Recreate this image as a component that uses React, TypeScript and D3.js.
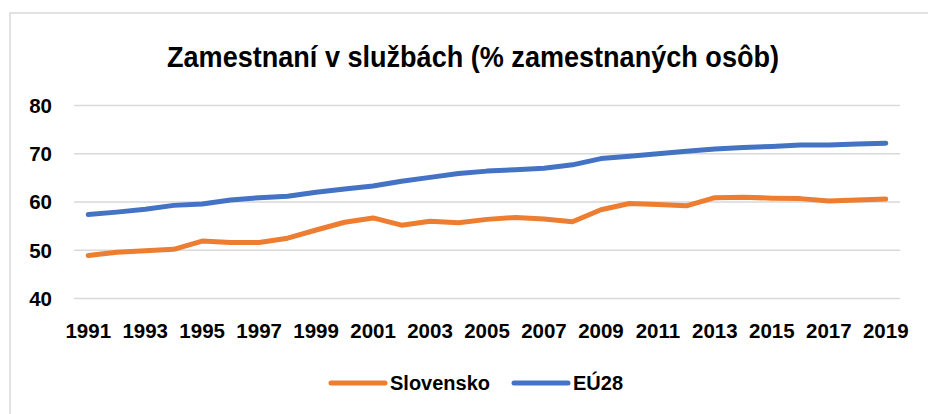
import React, { useRef, useEffect } from "react";
import * as d3 from "d3";

const years = d3.range(1991, 2020);
const slovensko = [
  48.9, 49.6, 49.9, 50.2, 51.9, 51.6, 51.6, 52.5, 54.2, 55.8,
  56.7, 55.2, 56.0, 55.7, 56.4, 56.8, 56.5, 55.9, 58.4, 59.7,
  59.5, 59.2, 60.9, 61.0, 60.8, 60.7, 60.2, 60.4, 60.6,
];
const eu28 = [
  57.4, 57.9, 58.5, 59.3, 59.6, 60.4, 60.9, 61.2, 62.0, 62.7,
  63.3, 64.3, 65.1, 65.9, 66.4, 66.7, 67.0, 67.7, 69.0, 69.5,
  70.0, 70.5, 71.0, 71.3, 71.5, 71.8, 71.8, 72.0, 72.2,
];
const yTicks = [40, 50, 60, 70, 80];
const title = "Zamestnaní v službách (% zamestnaných osôb)";
const seriesNames = ["Slovensko", "EÚ28"];
const colors = ["#ED7D31", "#4472C4"];

const W = 928;
const H = 414;
const FONT = "'Liberation Sans', Arial, sans-serif";

export default function App() {
  const ref = useRef<SVGSVGElement | null>(null);

  useEffect(() => {
    if (!ref.current) return;
    const svg = d3.select(ref.current);
    svg.selectAll("*").remove();

    // chart frame
    svg
      .append("rect")
      .attr("x", 10)
      .attr("y", 13)
      .attr("width", 940)
      .attr("height", 430)
      .attr("fill", "#fff")
      .attr("stroke", "#d9d9d9")
      .attr("stroke-width", 1.5);

    svg
      .append("text")
      .attr("x", 167)
      .attr("y", 67)
      .attr("textLength", 612)
      .attr("lengthAdjust", "spacingAndGlyphs")
      .attr("font-family", FONT)
      .attr("font-weight", "bold")
      .attr("font-size", 29)
      .attr("fill", "#000")
      .text(title);

    const x = d3
      .scalePoint<number>()
      .domain(years)
      .range([74, 900])
      .padding(0.5);
    const y = d3.scaleLinear().domain([40, 80]).range([298.5, 105.5]);

    // gridlines
    svg
      .append("g")
      .selectAll("line")
      .data(yTicks)
      .enter()
      .append("line")
      .attr("x1", 74)
      .attr("x2", 900)
      .attr("y1", (d) => y(d))
      .attr("y2", (d) => y(d))
      .attr("stroke", "#d9d9d9")
      .attr("stroke-width", 1.3);

    // y labels
    svg
      .append("g")
      .selectAll("text")
      .data(yTicks)
      .enter()
      .append("text")
      .attr("x", 52)
      .attr("y", (d) => y(d) + 7.3)
      .attr("text-anchor", "end")
      .attr("font-family", FONT)
      .attr("font-weight", "bold")
      .attr("font-size", 20.5)
      .attr("fill", "#000")
      .text((d) => d);

    // x labels (every other year)
    svg
      .append("g")
      .selectAll("text")
      .data(years.filter((d) => (d - 1991) % 2 === 0))
      .enter()
      .append("text")
      .attr("x", (d) => x(d)!)
      .attr("y", 337.5)
      .attr("text-anchor", "middle")
      .attr("font-family", FONT)
      .attr("font-weight", "bold")
      .attr("font-size", 20.5)
      .attr("fill", "#000")
      .text((d) => d);

    const line = d3
      .line<number>()
      .x((_d, i) => x(years[i])!)
      .y((d) => y(d));

    [slovensko, eu28].forEach((vals, k) => {
      svg
        .append("path")
        .datum(vals)
        .attr("d", line)
        .attr("fill", "none")
        .attr("stroke", colors[k])
        .attr("stroke-width", 5)
        .attr("stroke-linejoin", "round")
        .attr("stroke-linecap", "round");
    });

    // legend
    const legendX = [331, 514];
    seriesNames.forEach((name, k) => {
      const g = svg.append("g").attr("transform", `translate(${legendX[k]},383)`);
      g.append("line")
        .attr("x1", 0)
        .attr("x2", 54)
        .attr("stroke", colors[k])
        .attr("stroke-width", 5)
        .attr("stroke-linecap", "round");
      g.append("text")
        .attr("x", 59)
        .attr("y", 6.8)
        .attr("font-family", FONT)
        .attr("font-weight", "bold")
        .attr("font-size", 20)
        .attr("fill", "#000")
        .text(name);
    });
  }, []);

  return (
    <svg
      ref={ref}
      width={W}
      height={H}
      style={{ position: "absolute", left: 0, top: 0, background: "#fff" }}
    />
  );
}
